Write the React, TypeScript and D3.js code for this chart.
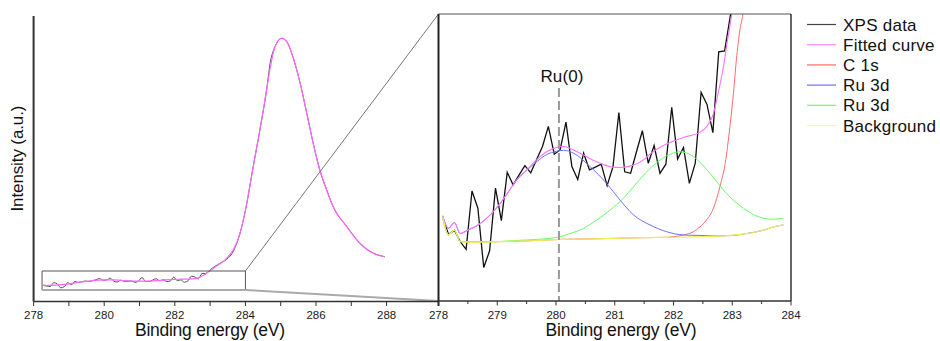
import React from 'react';
import * as d3 from 'd3';

// XPS data (binding energy eV, intensity counts)
const dataE = [278.07, 278.17, 278.27, 278.37, 278.47, 278.57, 278.67, 278.77, 278.87, 278.97,
  279.07, 279.17, 279.27, 279.37, 279.47, 279.57, 279.67, 279.77, 279.87, 279.97,
  280.07, 280.17, 280.27, 280.37, 280.47, 280.57, 280.67, 280.77, 280.87, 280.97,
  281.07, 281.17, 281.27, 281.37, 281.47, 281.57, 281.67, 281.77, 281.87, 281.97,
  282.07, 282.17, 282.27, 282.37, 282.47, 282.57, 282.67, 282.77, 282.87, 282.97,
  283.07, 283.17, 283.27, 283.37, 283.47, 283.66, 283.85, 284.04, 284.22, 284.41,
  284.60, 284.70, 284.84, 285.03, 285.17, 285.36, 285.55, 285.74, 285.92, 286.11,
  286.30, 286.49, 286.87, 287.25, 287.62, 287.95];
const dataI = [1176, 1139, 1148, 1124, 1108, 1230, 1194, 1070, 1105, 1236,
  1168, 1269, 1243, 1263, 1283, 1268, 1296, 1323, 1365, 1307,
  1316, 1374, 1281, 1254, 1309, 1274, 1280, 1286, 1241, 1281,
  1394, 1270, 1267, 1312, 1356, 1288, 1325, 1267, 1286, 1405,
  1297, 1321, 1246, 1288, 1436, 1411, 1352, 1521, 1523, 1598,
  1700, 1770, 1840, 1900, 1970, 2230, 2800, 3740, 4890, 6050,
  7320, 8160, 8690, 8950, 8850, 8310, 7540, 6570, 5640, 4780,
  4170, 3620, 3010, 2460, 2170, 2050];

// Fitted curve (envelope)
const fitE = [278.07, 278.17, 278.27, 278.37, 278.48, 278.71, 278.88, 279.05, 279.16, 279.33,
  279.50, 279.67, 279.84, 280.01, 280.13, 280.24, 280.47, 280.69, 280.92, 281.09,
  281.26, 281.49, 281.60, 281.88, 282.17, 282.45, 282.56, 282.68, 282.76, 282.85,
  282.93, 282.99, 283.10, 283.20, 283.35, 283.50, 283.66, 283.85, 284.04, 284.22,
  284.41, 284.60, 284.70, 284.84, 285.03, 285.17, 285.36, 285.55, 285.74, 285.92,
  286.11, 286.30, 286.49, 286.87, 287.25, 287.62, 287.95];
const fitI = [1178, 1152, 1164, 1141, 1147, 1162, 1180, 1204, 1223, 1253,
  1274, 1295, 1312, 1321, 1323, 1319, 1305, 1291, 1281, 1279,
  1282, 1295, 1307, 1328, 1342, 1353, 1364, 1392, 1434, 1490,
  1553, 1598, 1690, 1770, 1880, 2040, 2270, 2800, 3740, 4890,
  6050, 7320, 8000, 8680, 8950, 8840, 8320, 7530, 6580, 5630,
  4790, 4160, 3630, 3000, 2470, 2160, 2050];

// C 1s component
const c1sE = [278.07, 278.17, 278.27, 278.37, 278.99, 279.56, 280.13, 280.69, 281.26, 281.83,
  282.17, 282.34, 282.45, 282.56, 282.68, 282.79, 282.88, 282.96, 283.02, 283.07, 283.13, 283.18, 283.25];
const c1sI = [1176, 1139, 1148, 1124, 1124, 1126, 1129, 1130, 1132, 1133,
  1138, 1145, 1155, 1169, 1194, 1239, 1288, 1364, 1434, 1504, 1567, 1600, 1700];

// Ru 3d (Ru(0)) component
const ruAE = [278.07, 278.17, 278.27, 278.37, 278.48, 278.71, 278.88, 279.05, 279.16, 279.33,
  279.50, 279.67, 279.84, 280.01, 280.13, 280.30, 280.58, 280.86, 281.09, 281.26,
  281.32, 281.60, 281.88, 282.17, 282.45, 282.73, 283.02, 283.24, 283.53, 283.70, 283.87];
const ruAI = [1178, 1152, 1164, 1141, 1147, 1162, 1180, 1204, 1223, 1253,
  1273, 1291, 1306, 1313, 1315, 1309, 1281, 1246, 1211, 1187,
  1180, 1159, 1145, 1138, 1137, 1136, 1137, 1141, 1148, 1155, 1159];

// Ru 3d (second) component
const ruBE = [278.07, 278.17, 278.27, 278.37, 278.99, 279.22, 279.56, 280.01, 280.24, 280.47,
  280.69, 280.92, 281.15, 281.32, 281.60, 281.88, 282.11, 282.34, 282.62, 282.90,
  283.19, 283.47, 283.70, 283.87];
const ruBI = [1176, 1139, 1148, 1124, 1124, 1126, 1128, 1133, 1141, 1152,
  1169, 1190, 1215, 1239, 1277, 1303, 1312, 1302, 1267, 1225,
  1194, 1175, 1171, 1173];

// Background
const bgE = [278.07, 278.17, 278.27, 278.37, 278.48, 278.99, 279.56, 280.13, 280.69, 281.26,
  281.83, 282.39, 282.96, 283.24, 283.53, 283.70, 283.87];
const bgI = [1176, 1139, 1148, 1124, 1123, 1124, 1126, 1129, 1130, 1132,
  1133, 1134, 1137, 1141, 1148, 1155, 1159];

const leftTicks = [278, 279, 280, 281, 282, 283, 284, 285, 286, 287, 288];
const leftLabels = [278, 280, 282, 284, 286, 288];
const rightTicks = [278, 278.5, 279, 279.5, 280, 280.5, 281, 281.5, 282, 282.5, 283, 283.5, 284];
const rightLabels = [278, 279, 280, 281, 282, 283, 284];

const legendLabels = ['XPS data', 'Fitted curve', 'C 1s', 'Ru 3d', 'Ru 3d', 'Background'];
const legendColors = ['#444444', '#ff88ff', '#ff6b6b', '#7070ff', '#66ff66', '#ffff77'];

const ru0Energy = 280.05;
const zoomBoxE = [278.24, 284.0];
const zoomBoxI = [1000, 1600];

const FONT = '"Liberation Sans", Arial, Helvetica, sans-serif';

function path(xs: number[], ys: number[], X: any, Y: any, curve: any) {
  const idx = xs.map((_, i) => i);
  return d3.line<number>().x(i => X(xs[i])).y(i => Y(ys[i])).curve(curve)(idx) || '';
}

export default function App() {
  const xL = d3.scaleLinear().domain([278, 290]).range([33.6, 457.2]);
  const yL = d3.scaleLinear().domain([653, 9653]).range([301, 16]);
  const xR = d3.scaleLinear().domain([278, 284]).range([438.5, 791]);
  const yR = d3.scaleLinear().domain([1000, 1600]).range([301, 14]);

  const leftStart = 278.2;
  const ldE = dataE.filter(e => e >= leftStart);
  const ldI = dataI.filter((_, i) => dataE[i] >= leftStart);
  const lfE = fitE.filter(e => e >= leftStart);
  const lfI = fitI.filter((_, i) => fitE[i] >= leftStart);

  const bx0 = xL(zoomBoxE[0]), bx1 = xL(zoomBoxE[1]);
  const by0 = yL(zoomBoxI[1]), by1 = yL(zoomBoxI[0]);
  const rx0 = xR(278), rx1 = xR(284), ry0 = yR(1600), ry1 = yR(1000);

  const smooth = d3.curveMonotoneX;

  return (
    <svg width={940} height={341} style={{ position: 'absolute', left: 0, top: 0, background: '#fff' }}
      fontFamily={FONT}>
      <defs>
        <clipPath id="rclip">
          <rect x={rx0} y={ry0} width={rx1 - rx0} height={ry1 - ry0} />
        </clipPath>
      </defs>

      {/* Left panel */}
      <path d={path(ldE, ldI, xL, yL, smooth)} fill="none" stroke="#555" strokeWidth={1} />
      <path d={path(lfE, lfI, xL, yL, smooth)} fill="none" stroke="#ff66ff" strokeWidth={1.2} />

      {/* zoom box and connectors */}
      <line x1={bx0} y1={by0} x2={bx1} y2={by0} stroke="#555" strokeWidth={1} />
      <line x1={bx0} y1={by0} x2={bx0} y2={by1} stroke="#555" strokeWidth={1} />
      <line x1={bx1} y1={by0} x2={bx1} y2={by1} stroke="#555" strokeWidth={1} />
      <line x1={bx0} y1={by1} x2={bx1} y2={by1} stroke="#aaa" strokeWidth={2} />
      <line x1={bx1} y1={by0} x2={rx0} y2={ry0} stroke="#777" strokeWidth={1} />
      <line x1={bx1} y1={by1} x2={rx0} y2={ry1} stroke="#aaa" strokeWidth={2} />

      {/* left axes */}
      <line x1={xL(278)} y1={16} x2={xL(278)} y2={301.5} stroke="#333" strokeWidth={2} />
      <line x1={xL(278)} y1={301.5} x2={rx0} y2={301.5} stroke="#333" strokeWidth={1.5} />
      {leftTicks.map(t => (
        <line key={'lt' + t} x1={xL(t)} x2={xL(t)} y1={301.5} y2={306} stroke="#333" strokeWidth={1} />
      ))}
      {leftLabels.map(t => (
        <text key={'ll' + t} x={xL(t)} y={319} textAnchor="middle" fontSize={11.5} fill="#222">{t}</text>
      ))}
      <text x={210} y={336} textAnchor="middle" fontSize={17.5} fill="#111"
        textLength={150} lengthAdjust="spacing">Binding energy (eV)</text>
      <text transform="translate(23,158.5) rotate(-90)" textAnchor="middle" fontSize={17} fill="#111"
        textLength={106} lengthAdjust="spacing">Intensity (a.u.)</text>

      {/* Right panel */}
      <rect x={rx0} y={ry0} width={rx1 - rx0} height={ry1 - ry0} fill="#fff" />
      <g clipPath="url(#rclip)">
        <path d={path(dataE, dataI, xR, yR, d3.curveLinear)} fill="none" stroke="#111" strokeWidth={1.3} />
        <path d={path(c1sE, c1sI, xR, yR, smooth)} fill="none" stroke="#ff6b6b" strokeWidth={1} />
        <path d={path(ruAE, ruAI, xR, yR, smooth)} fill="none" stroke="#7070ff" strokeWidth={1} />
        <path d={path(fitE, fitI, xR, yR, smooth)} fill="none" stroke="#ff77ff" strokeWidth={1.1} />
        <path d={path(ruBE, ruBI, xR, yR, smooth)} fill="none" stroke="#66ff66" strokeWidth={1} />
        <path d={path(bgE, bgI, xR, yR, smooth)} fill="none" stroke="#eeee55" strokeWidth={1.2} />
      </g>
      <line x1={xR(ru0Energy)} x2={xR(ru0Energy)} y1={88} y2={ry1} stroke="#999" strokeWidth={2} strokeDasharray="9,4" />
      <text x={xR(ru0Energy) + 3} y={82} textAnchor="middle" fontSize={17} fill="#111"
        textLength={43} lengthAdjust="spacing">Ru(0)</text>

      <line x1={rx0} y1={ry0} x2={rx1} y2={ry0} stroke="#555" strokeWidth={1.2} />
      <line x1={rx0} y1={ry0} x2={rx0} y2={ry1 + 5} stroke="#222" strokeWidth={2} />
      <line x1={rx1} y1={ry0} x2={rx1} y2={ry1} stroke="#333" strokeWidth={1.5} />
      <line x1={rx0} y1={ry1} x2={rx1} y2={ry1} stroke="#333" strokeWidth={1.5} />
      {rightTicks.map(t => (
        <line key={'rt' + t} x1={xR(t)} x2={xR(t)} y1={ry1} y2={ry1 + (Number.isInteger(t) ? 4.5 : 3)} stroke="#333" strokeWidth={1} />
      ))}
      {rightLabels.map(t => (
        <text key={'rl' + t} x={xR(t)} y={319} textAnchor="middle" fontSize={11.5} fill="#222">{t}</text>
      ))}
      <text x={621} y={336} textAnchor="middle" fontSize={17.5} fill="#111"
        textLength={151} lengthAdjust="spacing">Binding energy (eV)</text>

      {/* Legend */}
      {legendLabels.map((lab, i) => {
        const cy = 24.5 + i * 20.2;
        return (
          <g key={'lg' + i}>
            <line x1={807} x2={836} y1={cy} y2={cy} stroke={legendColors[i]} strokeWidth={1.2} />
            <text x={843} y={cy + 6} fontSize={17} letterSpacing={0.25} fill="#111">{lab}</text>
          </g>
        );
      })}
    </svg>
  );
}
